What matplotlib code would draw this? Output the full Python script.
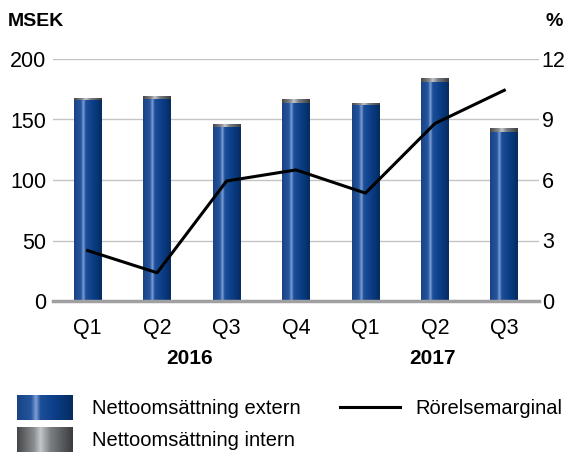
import numpy as np
import matplotlib.pyplot as plt
from matplotlib.colors import LinearSegmentedColormap

# data
quarters = ['Q1', 'Q2', 'Q3', 'Q4', 'Q1', 'Q2', 'Q3']
years = ['2016', '2017']
extern = [166, 167, 143.5, 163.5, 162, 181, 140]
intern = [1.5, 2, 2, 2.5, 1.5, 3, 3]
margin = [2.5, 1.4, 5.95, 6.5, 5.35, 8.8, 10.45]

plt.rcParams['font.family'] = ['Liberation Sans', 'DejaVu Sans']

blue = LinearSegmentedColormap.from_list('b', [(0, '#1a4284'), (0.25, '#24569e'), (0.34, '#7f9ed4'),
                                               (0.42, '#1c4f99'), (0.7, '#0a3d85'), (1, '#062c60')])
grey = LinearSegmentedColormap.from_list('g', [(0, '#444648'), (0.3, '#8a8d90'), (0.42, '#c4c7ca'),
                                               (0.6, '#7b7e82'), (1, '#3a3c3f')])
grad = np.linspace(0, 1, 256).reshape(1, -1)

W, H = 574, 454
fig = plt.figure(figsize=(W / 100, H / 100), dpi=100)
ax = fig.add_axes([53 / W, 1 - 301 / H, 486 / W, 242 / H])
x = np.arange(len(quarters))
w = 0.4

for xi, e, i in zip(x, extern, intern):
    ax.imshow(grad, cmap=blue, aspect='auto', extent=(xi - w / 2, xi + w / 2, 0, e), zorder=2)
    ax.imshow(grad, cmap=grey, aspect='auto', extent=(xi - w / 2, xi + w / 2, e, e + i), zorder=2)

ax.set_xlim(-0.5, 6.5)
ax.set_ylim(0, 200)
ax.set_yticks([0, 50, 100, 150, 200])
ax.grid(axis='y', color='#c4c4c4', lw=1)
ax.set_axisbelow(True)
for s in ['top', 'left', 'right']:
    ax.spines[s].set_visible(False)
ax.spines['bottom'].set_color('#a0a0a0')
ax.spines['bottom'].set_linewidth(2.5)
ax.spines['bottom'].set_zorder(4)
ax.tick_params(length=0, labelsize=15.5)
ax.tick_params(axis='y', pad=5)
ax.set_xticks(x)
ax.set_xticklabels(quarters)
ax.tick_params(axis='x', pad=12)

ax2 = ax.twinx()
ax2.plot(x, margin, color='black', lw=2.2, zorder=5)
ax2.set_ylim(0, 12)
ax2.set_yticks([0, 3, 6, 9, 12])
for s in ax2.spines.values():
    s.set_visible(False)
ax2.tick_params(length=0, labelsize=15.5, pad=2)

fig.text(8 / W, 1 - 22 / H, 'MSEK', fontsize=14, fontweight='bold', va='center')
fig.text(545 / W, 1 - 22 / H, '%', fontsize=14, fontweight='bold', va='center')
fig.text(190 / W, 1 - 359 / H, years[0], fontsize=15, fontweight='bold', ha='center', va='center')
fig.text(432 / W, 1 - 359 / H, years[1], fontsize=15, fontweight='bold', ha='center', va='center')

# legend
sw1 = fig.add_axes([17 / W, 1 - 420 / H, 56 / W, 25 / H])
sw1.imshow(grad, cmap=blue, aspect='auto')
sw1.axis('off')
sw2 = fig.add_axes([17 / W, 1 - 452 / H, 56 / W, 25 / H])
sw2.imshow(grad, cmap=grey, aspect='auto')
sw2.axis('off')
fig.text(92 / W, 1 - 408 / H, 'Nettoomsättning extern', fontsize=14.5, va='center')
fig.text(92 / W, 1 - 440 / H, 'Nettoomsättning intern', fontsize=14.5, va='center')
fig.add_artist(plt.Line2D([340 / W, 400 / W], [1 - 407 / H] * 2, color='black', lw=2.2))
fig.text(415 / W, 1 - 408 / H, 'Rörelsemarginal', fontsize=14.5, va='center')

fig.savefig('out.png', dpi=100)
